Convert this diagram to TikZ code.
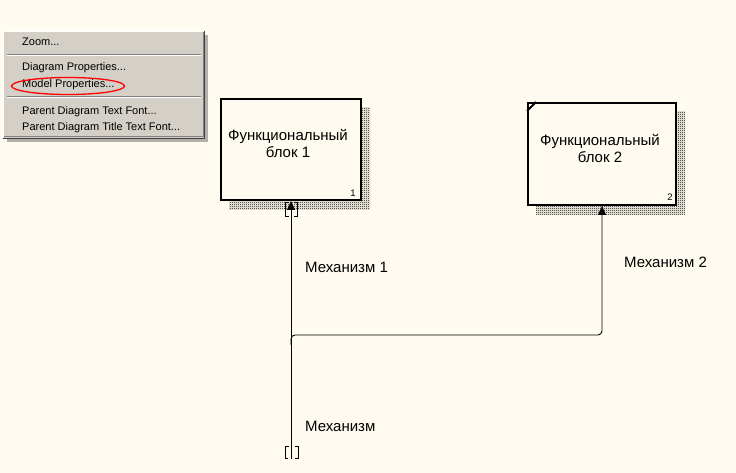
\documentclass[tikz,border=0pt]{standalone}
\usepackage{fontspec}
\setmainfont{Liberation Sans}
\usetikzlibrary{arrows.meta,patterns}
\definecolor{bg}{HTML}{FFFBF0}
\definecolor{menubg}{HTML}{D4D0C8}
\definecolor{menudark}{HTML}{808080}
\definecolor{menuedge}{HTML}{404040}
\definecolor{hatch}{HTML}{000000}
\pgfdeclarepatternformonly{dither}{\pgfpointorigin}{\pgfqpoint{2pt}{2pt}}{\pgfqpoint{2pt}{2pt}}{%
  \pgfpathrectangle{\pgfpointorigin}{\pgfqpoint{1pt}{1pt}}%
  \pgfpathrectangle{\pgfqpoint{1pt}{1pt}}{\pgfqpoint{1pt}{1pt}}%
  \pgfusepath{fill}}
\tikzset{
  blockbox/.style={draw=black, line width=2pt, fill=bg, inner sep=0pt},
  blockshadow/.style={pattern=dither, pattern color=hatch, draw=none},
  blocktext/.style={font=\fontsize{15}{17.5}\selectfont, align=center, inner sep=0pt},
  numtext/.style={font=\fontsize{9.5}{11}\selectfont, inner sep=0pt},
  labeltext/.style={font=\fontsize{15}{17.5}\selectfont, anchor=west, inner sep=0pt},
  menutext/.style={font=\fontsize{11}{13}\selectfont, anchor=west, inner sep=0pt},
  conn/.style={draw=black, line width=0.9pt},
  tip/.style={-{Triangle[width=8pt,length=9pt]}},
  tunnel/.style={draw=black, line width=1pt}
}
\begin{document}
\begin{tikzpicture}[x=1pt,y=-1pt]
\fill[bg] (0,0) rectangle (736,473);
\useasboundingbox (0,0) rectangle (736,473);

% ---------- context menu ----------
\fill[black!55, opacity=0.55] (7,35) rectangle (208,142);
\fill[menubg] (3,31) rectangle (204,138);
\draw[white, line width=1pt] (3.5,137.5) -- (3.5,31.5) -- (203.5,31.5);
\draw[menudark, line width=1pt] (4,137) -- (203,137) -- (203,32);
\draw[menuedge, line width=1pt] (3,138.5) -- (204.5,138.5) -- (204.5,31);
\draw[menudark, line width=1pt] (7,55) -- (201,55);
\draw[white, line width=1pt] (7,56) -- (201,56);
\draw[menudark, line width=1pt] (7,97) -- (201,97);
\draw[white, line width=1pt] (7,98) -- (201,98);
\node[menutext] (mzoom) at (22,42) {Zoom...};
\node[menutext] (mdiag) at (22,68) {Diagram Properties...};
\node[menutext] (mmodel) at (22,85) {Model Properties...};
\node[menutext] (mfont) at (22,112) {Parent Diagram Text Font...};
\node[menutext] (mtitle) at (22,128) {Parent Diagram Title Text Font...};
\draw[red, line width=1.3pt] (68,86) ellipse [x radius=56.5pt, y radius=8.5pt];

% ---------- blocks ----------
\fill[blockshadow] (229,108) rectangle (370,210);
\node[blockbox, minimum width=140pt, minimum height=101pt] (b1) at (291,149.5) {};
\node[blocktext] (t1) at (288,143.5) {Функциональный\\блок 1};
\node[numtext] (n1) at (353,193) {1};

\fill[blockshadow] (536,112) rectangle (685,215);
\node[blockbox, minimum width=148pt, minimum height=102pt] (b2) at (602,154) {};
\draw[line width=2pt] ([yshift=-9pt]b2.north west) -- ([xshift=9pt]b2.north west);
\node[blocktext] (t2) at (600,148.5) {Функциональный\\блок 2};
\node[numtext] (n2) at (670,197) {2};

% ---------- connectors ----------
\coordinate (m0) at (291,459);
\coordinate (j) at (291,345);
\coordinate (k) at (602,335);
\draw[conn, tip] (m0) -- (m0 |- b1.south);
\draw[conn, tip, rounded corners=4pt] (j) |- (k) -- (k |- b2.south);

% tunnel brackets
\draw[tunnel] (288.5,203) -- (285,203) -- (285,217) -- (288.5,217);
\draw[tunnel] (294,203) -- (297.5,203) -- (297.5,217) -- (294,217);
\draw[tunnel] (288.5,446) -- (285,446) -- (285,458) -- (288,458);
\draw[tunnel] (295,446) -- (298.5,446) -- (298.5,458) -- (295,458);

% ---------- labels ----------
\node[labeltext] (l1) at (305,267) {Механизм 1};
\node[labeltext] (l2) at (624,262) {Механизм 2};
\node[labeltext] (l0) at (305,426) {Механизм};
\end{tikzpicture}
\end{document}
